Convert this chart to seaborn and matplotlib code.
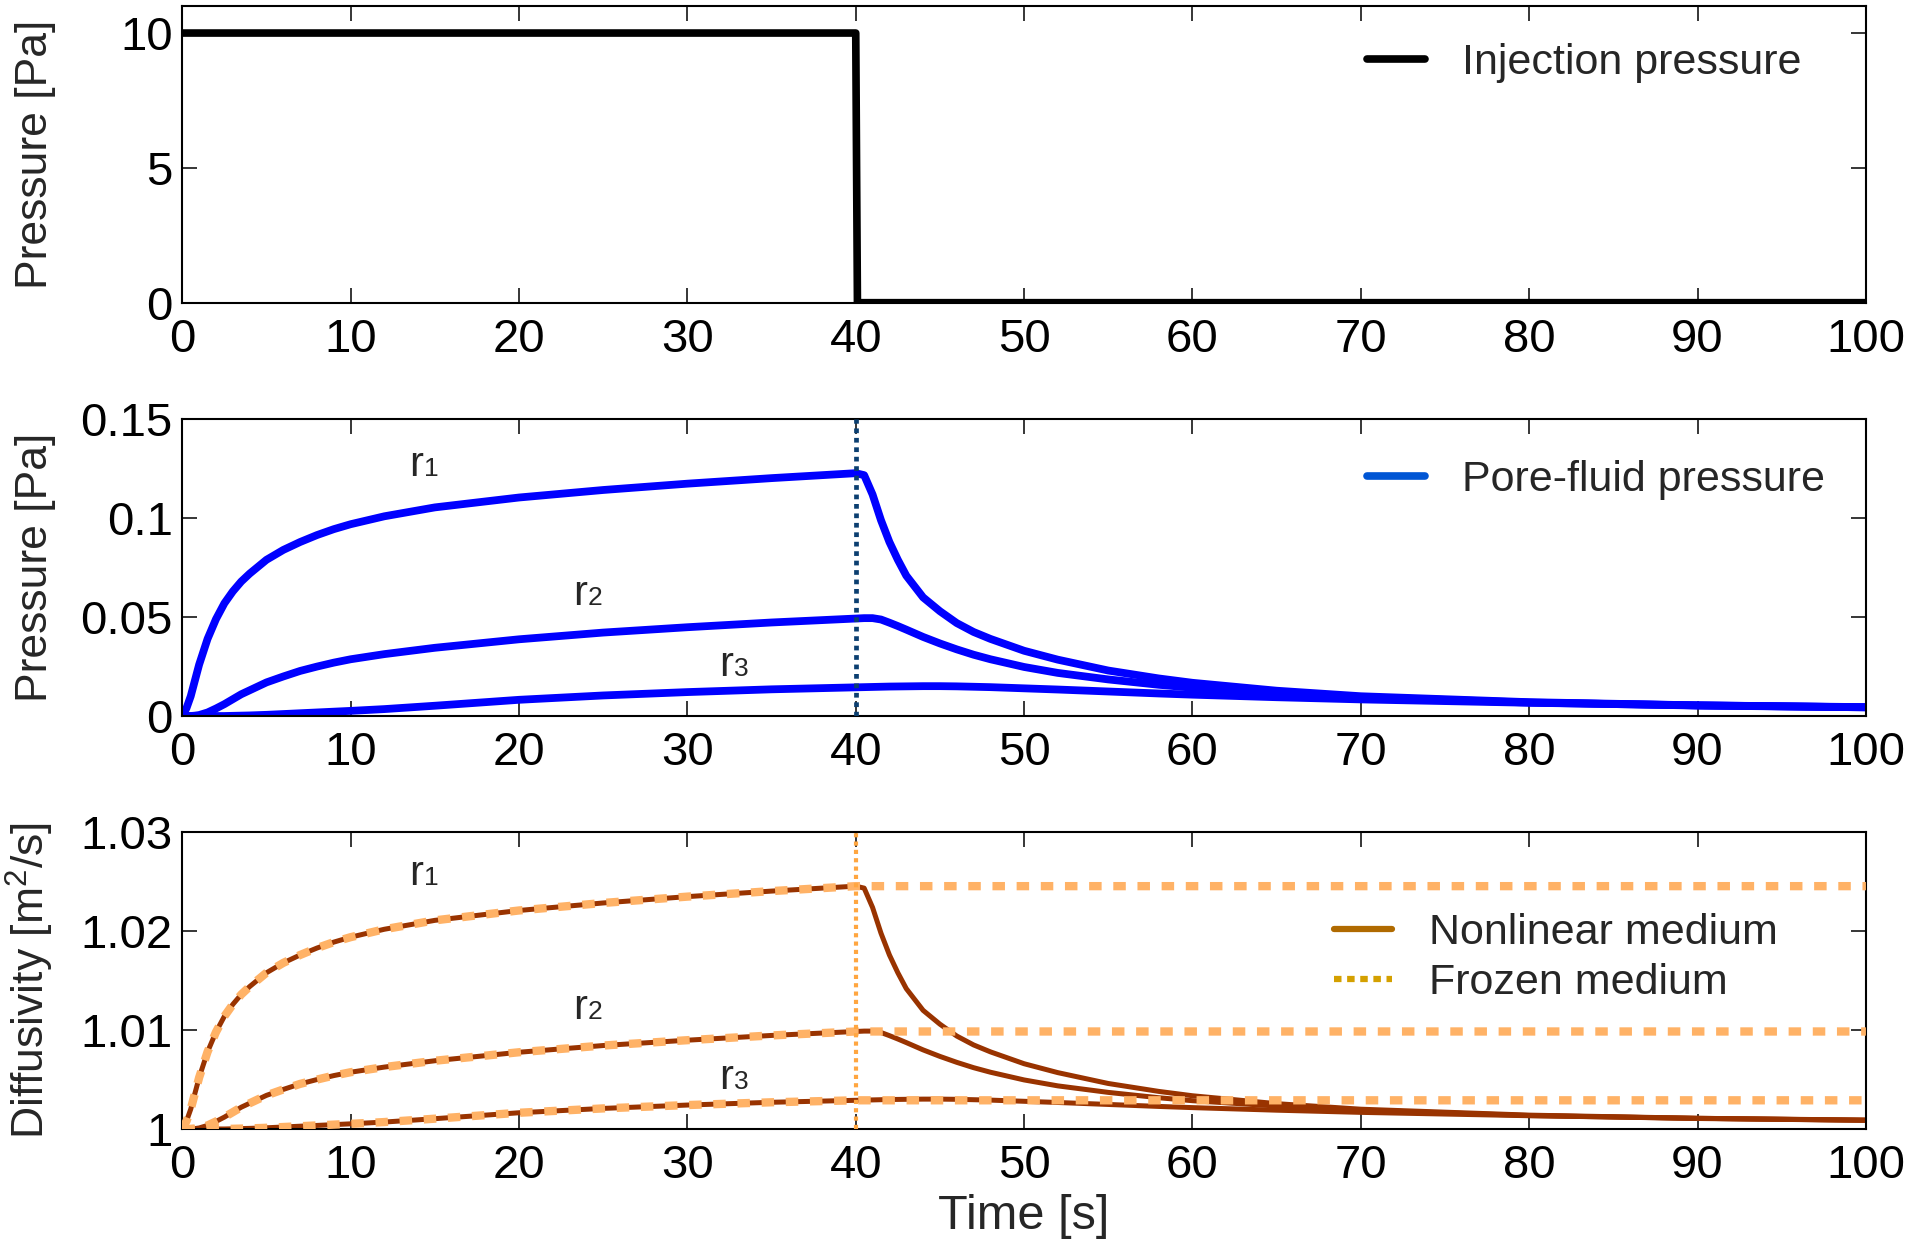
import matplotlib
matplotlib.use("Agg")
import matplotlib.pyplot as plt
import seaborn as sns
from matplotlib.lines import Line2D

# ---- data -------------------------------------------------------------
t_inj = [0, 40, 40.1, 100]
p_inj = [10, 10, 0, 0]

time = [0, 0.25, 0.5, 0.75, 1, 1.5, 2, 2.5, 3, 3.5, 4, 5, 6, 7, 8, 9, 10, 12, 15,
        20, 25, 30, 35, 40, 40.5, 41, 41.5, 42, 42.5, 43, 44, 45, 46, 47, 48, 50,
        52, 55, 58, 60, 65, 70, 80, 90, 100]

pore_r1 = [0, 0.004, 0.010, 0.018, 0.026, 0.039, 0.049, 0.057, 0.063, 0.068, 0.072,
           0.079, 0.084, 0.088, 0.0915, 0.0945, 0.097, 0.101, 0.1055, 0.1105, 0.1143,
           0.1175, 0.1203, 0.1228, 0.1218, 0.112, 0.099, 0.088, 0.079, 0.071, 0.060,
           0.053, 0.047, 0.0425, 0.039, 0.033, 0.0285, 0.023, 0.019, 0.0168, 0.0128,
           0.0100, 0.0070, 0.0054, 0.0044]
pore_r2 = [0, 0, 0, 0.0002, 0.0005, 0.0018, 0.0038, 0.006, 0.0085, 0.011, 0.013,
           0.017, 0.020, 0.0228, 0.025, 0.027, 0.0287, 0.0313, 0.0345, 0.0388, 0.0422,
           0.0449, 0.0473, 0.0493, 0.0495, 0.0495, 0.0488, 0.0472, 0.0455, 0.0437,
           0.040, 0.0367, 0.0337, 0.031, 0.0287, 0.0248, 0.0218, 0.0185, 0.0158,
           0.0143, 0.0116, 0.0095, 0.0068, 0.0053, 0.0044]
pore_r3 = [0, 0, 0, 0, 0, 0, 0, 0, 0.0001, 0.0002, 0.0003, 0.0006, 0.001, 0.0014,
           0.0018, 0.0022, 0.0026, 0.0035, 0.0052, 0.0082, 0.0104, 0.0121, 0.0135,
           0.0145, 0.0146, 0.0147, 0.0148, 0.0149, 0.01495, 0.015, 0.0151, 0.0151,
           0.015, 0.0148, 0.0146, 0.0140, 0.0134, 0.0124, 0.0114, 0.0108, 0.0095,
           0.0084, 0.0067, 0.0054, 0.0045]

diff_r1 = [1.0, 1.0008, 1.0020, 1.0036, 1.0052, 1.0078, 1.0098, 1.0114, 1.0126,
           1.0136, 1.0144, 1.0158, 1.0168, 1.0176, 1.0183, 1.0189, 1.0194, 1.0202,
           1.0211, 1.0221, 1.02286, 1.0235, 1.02406, 1.02456, 1.02436, 1.0224,
           1.0198, 1.0176, 1.0158, 1.0142, 1.0120, 1.0106, 1.0094, 1.0085, 1.0078,
           1.0066, 1.0057, 1.0046, 1.0038, 1.00336, 1.00256, 1.0020, 1.0014,
           1.00108, 1.00088]
diff_r2 = [1.0, 1.0, 1.0, 1.00004, 1.0001, 1.00036, 1.00076, 1.0012, 1.0017, 1.0022,
           1.0026, 1.0034, 1.0040, 1.00456, 1.0050, 1.0054, 1.00574, 1.00626, 1.0069,
           1.00776, 1.00844, 1.00898, 1.00946, 1.00986, 1.0099, 1.0099, 1.00976,
           1.00944, 1.0091, 1.00874, 1.0080, 1.00734, 1.00674, 1.0062, 1.00574,
           1.00496, 1.00436, 1.0037, 1.00316, 1.00286, 1.00232, 1.0019, 1.00136,
           1.00106, 1.00088]
diff_r3 = [1.0, 1.0, 1.0, 1.0, 1.0, 1.0, 1.0, 1.0, 1.00002, 1.00004, 1.00006,
           1.00012, 1.0002, 1.00028, 1.00036, 1.00044, 1.00052, 1.0007, 1.00104,
           1.00164, 1.00208, 1.00242, 1.0027, 1.0029, 1.00292, 1.00294, 1.00296,
           1.00298, 1.00299, 1.0030, 1.00302, 1.00302, 1.0030, 1.00296, 1.00292,
           1.0028, 1.00268, 1.00248, 1.00228, 1.00216, 1.0019, 1.00168, 1.00134,
           1.00108, 1.0009]

# frozen medium: diffusivity held at its value when injection stops
t_stop = 40
frozen_level = [1.02456, 1.00986, 1.0029]

radius_labels = ["1", "2", "3"]
pore_label_pos = [(13.5, 0.1212), (23.2, 0.056), (31.9, 0.0202)]
diff_label_pos = [(13.5, 1.0247), (23.2, 1.0111), (31.9, 1.0040)]

x_ticks = list(range(0, 101, 10))
top_yticks = [0, 5, 10]
mid_yticks = [0, 0.05, 0.1, 0.15]
mid_yticklabels = ["0", "0.05", "0.1", "0.15"]
bot_yticks = [1.0, 1.01, 1.02, 1.03]
bot_yticklabels = ["1", "1.01", "1.02", "1.03"]

# ---- style ------------------------------------------------------------
sns.set_theme(style="ticks")
plt.rcParams["font.family"] = ["Liberation Sans", "DejaVu Sans"]
plt.rcParams["mathtext.fontset"] = "custom"
plt.rcParams["mathtext.rm"] = "Liberation Sans"

TICK_FS = 34
LABEL_FS = 32
LEG_FS = 31

fig = plt.figure(figsize=(19.27, 12.39), dpi=100)
left, width, height = 0.0946, 0.8737, 0.2394
ax_top = fig.add_axes([left, 0.7557, width, height])
ax_mid = fig.add_axes([left, 0.4221, width, height])
ax_bot = fig.add_axes([left, 0.0888, width, height])

for ax in (ax_top, ax_mid, ax_bot):
    ax.set_xlim(0, 100)
    ax.set_xticks(x_ticks)
    ax.tick_params(direction="in", length=11, width=1.1, top=True, right=True,
                   labelsize=TICK_FS, color="black", labelcolor="black")
    ax.tick_params(axis="x", pad=11)
    ax.tick_params(axis="y", pad=7)
    for sp in ax.spines.values():
        sp.set_visible(True)
        sp.set_linewidth(1.5)
        sp.set_color("black")
    ax.set_facecolor("white")

legend_kw = dict(loc="center left", frameon=False, fontsize=LEG_FS,
                 handlelength=1.35, handletextpad=0.85, borderpad=0, borderaxespad=0)

# ---- top: injection pressure -----------------------------------------
sns.lineplot(x=t_inj, y=p_inj, ax=ax_top, color="black", linewidth=5.5,
             estimator=None, sort=False)
ax_top.set_ylim(0, 11)
ax_top.set_yticks(top_yticks)
ax_top.set_ylabel("Pressure [Pa]", fontsize=LABEL_FS)
ax_top.legend(handles=[Line2D([], [], color="black", lw=5.5)],
              labels=["Injection pressure"], bbox_to_anchor=(0.7037, 0.808),
              **legend_kw)

# ---- middle: pore-fluid pressure --------------------------------------
for series in (pore_r1, pore_r2, pore_r3):
    sns.lineplot(x=time, y=series, ax=ax_mid, color="#0000ff", linewidth=5.6,
                 estimator=None, sort=False)
ax_mid.axvline(t_stop, color="#0b3f70", lw=3.4, linestyle=(0, (1.0, 1.0)),
               dash_capstyle="butt", zorder=3)
ax_mid.set_ylim(0, 0.15)
ax_mid.set_yticks(mid_yticks)
ax_mid.set_yticklabels(mid_yticklabels)
ax_mid.set_ylabel("Pressure [Pa]", fontsize=LABEL_FS)
ax_mid.legend(handles=[Line2D([], [], color="#0055d4", lw=5.5)],
              labels=["Pore-fluid pressure"], bbox_to_anchor=(0.7037, 0.795),
              **legend_kw)

# ---- bottom: diffusivity -----------------------------------------------
n_stop = time.index(t_stop) + 1
for series, level in zip((diff_r1, diff_r2, diff_r3), frozen_level):
    sns.lineplot(x=time, y=series, ax=ax_bot, color="#993300", linewidth=3.6,
                 estimator=None, sort=False, zorder=2)
    sns.lineplot(x=time[:n_stop] + [100], y=series[:n_stop] + [level], ax=ax_bot,
                 color="#ffb266", linewidth=6.0, estimator=None, sort=False, zorder=3)
    ax_bot.lines[-1].set_linestyle((0, (1.5, 1.4)))
    ax_bot.lines[-1].set_dash_capstyle("butt")
ax_bot.axvline(t_stop, color="#ffa640", lw=3.0, linestyle=(0, (1.0, 1.0)),
               dash_capstyle="butt", zorder=4)
ax_bot.set_ylim(1.0, 1.03)
ax_bot.set_yticks(bot_yticks)
ax_bot.set_yticklabels(bot_yticklabels)
ax_bot.set_ylabel("Diffusivity [m$^2$/s]", fontsize=LABEL_FS)
ax_bot.set_xlabel("Time [s]", fontsize=35, labelpad=4)
ax_bot.legend(handles=[Line2D([], [], color="#b06a00", lw=4.5),
                       Line2D([], [], color="#d4a000", lw=4.5,
                              linestyle=(0, (1.2, 0.9)), dash_capstyle="butt")],
              labels=["Nonlinear medium", "Frozen medium"],
              bbox_to_anchor=(0.684, 0.576), labelspacing=0.22, **legend_kw)

# ---- radius labels ------------------------------------------------------
for ax, positions in ((ax_mid, pore_label_pos), (ax_bot, diff_label_pos)):
    for digit, (x, y) in zip(radius_labels, positions):
        ax.annotate("r", xy=(x, y), ha="left", va="baseline", fontsize=30)
        ax.annotate(digit, xy=(x, y), xytext=(10.5, 0), textcoords="offset points",
                    ha="left", va="baseline", fontsize=19)

for ax in (ax_top, ax_mid, ax_bot):
    ax.yaxis.set_label_coords(-0.075, 0.5)

fig.savefig("out.png", dpi=100, facecolor="white")
